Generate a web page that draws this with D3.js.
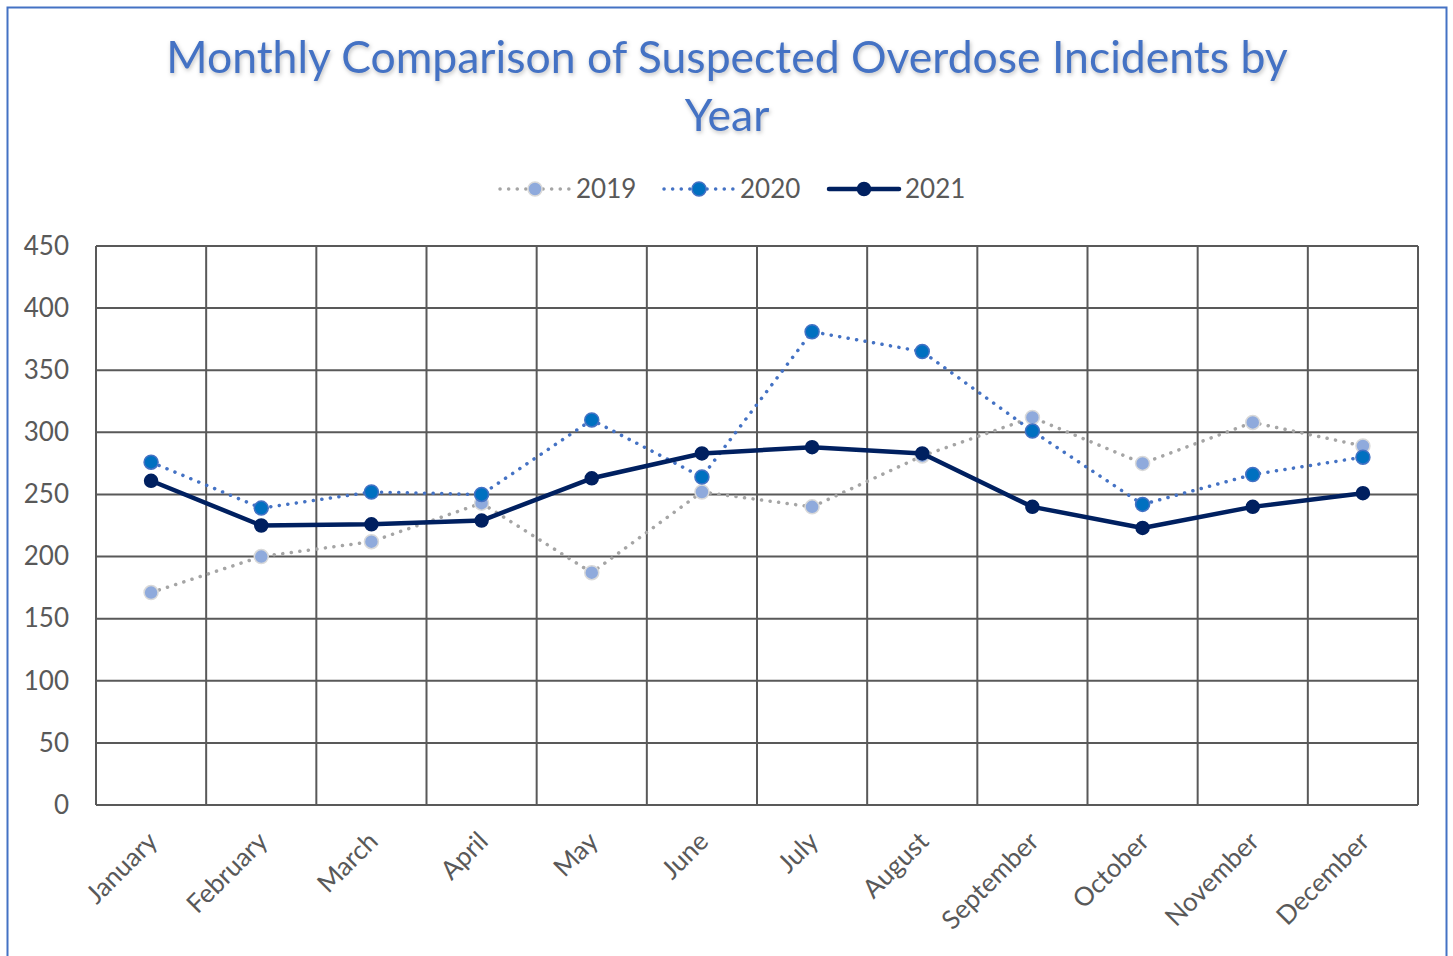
<!DOCTYPE html>
<html>
<head>
<meta charset="utf-8">
<script src="https://cdn.jsdelivr.net/npm/d3@7"></script>
<style>
  body { margin: 0; background: #fff; }
  svg { display: block; font-family: Lato, "Open Sans", sans-serif; }
</style>
</head>
<body>
<div id="chart"></div>
<script>
// Data
const months = ["January", "February", "March", "April", "May", "June", "July", "August", "September", "October", "November", "December"];
const values2019 = [171, 200, 212, 243, 187, 252, 240, 281, 312, 275, 308, 289];
const values2020 = [276, 239, 252, 250, 310, 264, 381, 365, 301, 242, 266, 280];
const values2021 = [261, 225, 226, 229, 263, 283, 288, 283, 240, 223, 240, 251];
const yTicks = [0, 50, 100, 150, 200, 250, 300, 350, 400, 450];

const series = [
  { name: "2019", values: values2019, line: "#A5A5A5", width: 3.5, dash: "0.1 8.5", fill: "#8FAADC", stroke: "#D9D9D9", r: 7 },
  { name: "2020", values: values2020, line: "#4472C4", width: 3.5, dash: "0.1 8.5", fill: "#0070C0", stroke: "#4472C4", r: 7 },
  { name: "2021", values: values2021, line: "#002060", width: 4.5, dash: null, fill: "#002060", stroke: "#002060", r: 6.5 }
];

const width = 1453, height = 956;
const margin = { top: 246, right: 35, bottom: 151, left: 96 };

const svg = d3.select("#chart").append("svg").attr("width", width).attr("height", height);

// outer frame
svg.append("rect").attr("x", 7.5).attr("y", 7.5).attr("width", 1439).attr("height", 960)
  .attr("fill", "none").attr("stroke", "#4472C4").attr("stroke-width", 2);

// title
const title = svg.append("text").attr("text-anchor", "middle").attr("fill", "#4472C4")
  .attr("font-size", 44.5).style("filter", "drop-shadow(1px 2px 2px rgba(0,0,0,0.25))");
title.append("tspan").attr("x", 727).attr("y", 73).text("Monthly Comparison of Suspected Overdose Incidents by");
title.append("tspan").attr("x", 727).attr("y", 131).text("Year");

const x = d3.scaleBand().domain(months).range([margin.left, width - margin.right]);
const y = d3.scaleLinear().domain([0, 450]).range([height - margin.bottom, margin.top]);

const grid = svg.append("g").attr("stroke", "#595959").attr("stroke-width", 2);
grid.selectAll("line.h").data(yTicks).join("line").attr("class", "h")
  .attr("x1", margin.left).attr("x2", width - margin.right)
  .attr("y1", d => y(d)).attr("y2", d => y(d));
const bounds = months.map(m => x(m)).concat([x(months[months.length - 1]) + x.bandwidth()]);
grid.selectAll("line.v").data(bounds).join("line").attr("class", "v")
  .attr("x1", d => d).attr("x2", d => d)
  .attr("y1", margin.top).attr("y2", height - margin.bottom);

// y axis labels
const yAxis = svg.append("g").attr("transform", `translate(${margin.left},0)`)
  .call(d3.axisLeft(y).tickValues(yTicks).tickSize(0).tickPadding(27));
yAxis.select(".domain").remove();
yAxis.selectAll("text").attr("font-size", 26).attr("fill", "#595959").attr("font-family", "Lato, sans-serif");

// x axis labels
const xAxis = svg.append("g").attr("transform", `translate(0,${height - margin.bottom})`)
  .call(d3.axisBottom(x).tickSize(0).tickPadding(0));
xAxis.select(".domain").remove();
xAxis.selectAll("text").attr("font-size", 26).attr("fill", "#595959").attr("font-family", "Lato, sans-serif")
  .attr("text-anchor", "end").attr("dy", 0).attr("y", 0)
  .attr("transform", "translate(8,38) rotate(-45)");

const cx = m => x(m) + x.bandwidth() / 2;
const line = d3.line().x((d, i) => cx(months[i])).y(d => y(d));

series.forEach(s => {
  const g = svg.append("g");
  g.append("path").attr("d", line(s.values)).attr("fill", "none")
    .attr("stroke", s.line).attr("stroke-width", s.width).attr("stroke-linecap", "round")
    .attr("stroke-linejoin", "round").attr("stroke-dasharray", s.dash);
  g.selectAll("circle").data(s.values).join("circle")
    .attr("cx", (d, i) => cx(months[i])).attr("cy", d => y(d)).attr("r", s.r)
    .attr("fill", s.fill).attr("stroke", s.stroke).attr("stroke-width", 1.5);
});

// legend
const legendX = [500, 664, 829];
const legend = svg.append("g").attr("transform", "translate(0,189)");
series.forEach((s, i) => {
  const g = legend.append("g").attr("transform", `translate(${legendX[i]},0)`);
  g.append("line").attr("x1", 0).attr("x2", 70).attr("y1", 0).attr("y2", 0)
    .attr("stroke", s.line).attr("stroke-width", s.width).attr("stroke-linecap", "round")
    .attr("stroke-dasharray", s.dash);
  g.append("circle").attr("cx", 35).attr("cy", 0).attr("r", s.r)
    .attr("fill", s.fill).attr("stroke", s.stroke).attr("stroke-width", 1.5);
  g.append("text").attr("x", 76).attr("y", 0).attr("dy", "0.35em")
    .attr("font-size", 26).attr("fill", "#595959").text(s.name);
});
</script>
</body>
</html>
